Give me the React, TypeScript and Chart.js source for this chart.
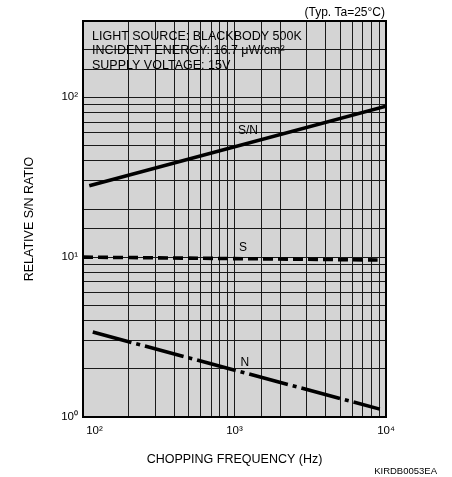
import React, { useEffect, useRef } from 'react';
import { Chart, registerables } from 'chart.js';

Chart.register(...registerables);

// ---- data ----
const snFreq = [110, 10000];
const snRatio = [28, 88];
const sFreq = [100, 8800];
const sRatio = [10, 9.6];
const nFreq = [116, 9100];
const nRatio = [3.4, 1.12];

const xTickValues = [100, 1000, 10000];
const xTickLabels = ['10²', '10³', '10⁴'];
const yTickValues = [1, 10, 100];
const yTickLabels = ['10⁰', '10¹', '10²'];

const seriesNames = ['S/N', 'S', 'N'];
const seriesLabelFreq = [1228, 1137, 1172];
const seriesLabelValue = [62, 11.4, 2.2];

const conditionLines = [
  'LIGHT SOURCE: BLACKBODY 500K',
  'INCIDENT ENERGY: 16.7 μW/cm²',
  'SUPPLY VOLTAGE: 15V',
];
const noteText = '(Typ. Ta=25°C)';
const codeText = 'KIRDB0053EA';
const xTitle = 'CHOPPING FREQUENCY (Hz)';
const yTitle = 'RELATIVE S/N RATIO';

const FONT = "'Liberation Sans', Arial, Helvetica, sans-serif";

function findTick(values: number[], v: number) {
  return values.findIndex((t) => Math.abs(Math.log10(t) - Math.log10(v)) < 1e-6);
}

export default function App() {
  const ref = useRef<HTMLCanvasElement>(null);

  useEffect(() => {
    const canvas = ref.current!;

    const bgPlugin = {
      id: 'bgFill',
      beforeDraw(chart: any) {
        const { ctx, chartArea } = chart;
        ctx.save();
        ctx.fillStyle = '#ffffff';
        ctx.fillRect(0, 0, chart.width, chart.height);
        ctx.fillStyle = '#d4d4d4';
        ctx.fillRect(chartArea.left, chartArea.top, chartArea.right - chartArea.left, chartArea.bottom - chartArea.top);
        ctx.restore();
      },
    };

    const annotPlugin = {
      id: 'annot',
      afterDraw(chart: any) {
        const { ctx, chartArea, scales } = chart;
        ctx.save();
        // frame
        ctx.strokeStyle = '#000';
        ctx.lineWidth = 2;
        ctx.strokeRect(chartArea.left, chartArea.top, chartArea.right - chartArea.left, chartArea.bottom - chartArea.top);

        ctx.fillStyle = '#000';
        // note top right
        ctx.font = `12px ${FONT}`;
        ctx.textAlign = 'right';
        ctx.textBaseline = 'alphabetic';
        ctx.fillText(noteText, chartArea.right - 1, 16);

        // conditions
        ctx.textAlign = 'left';
        ctx.font = `12.5px ${FONT}`;
        conditionLines.forEach((t, i) => {
          ctx.fillText(t, chartArea.left + 9, 39.5 + i * 14.5);
        });

        // series labels
        ctx.font = `12px ${FONT}`;
        ctx.textAlign = 'center';
        ctx.textBaseline = 'middle';
        seriesNames.forEach((name, i) => {
          const x = scales.x.getPixelForValue(seriesLabelFreq[i]);
          const y = scales.y.getPixelForValue(seriesLabelValue[i]);
          ctx.fillText(name, x, y);
        });

        // code
        ctx.font = `9.5px ${FONT}`;
        ctx.textAlign = 'right';
        ctx.textBaseline = 'alphabetic';
        ctx.fillText(codeText, 437, 474);
        ctx.restore();
      },
    };

    const mk = (fx: number[], vy: number[]) => fx.map((f, i) => ({ x: f, y: vy[i] }));

    const chart = new Chart(canvas, {
      type: 'line',
      data: {
        datasets: [
          {
            label: 'S/N',
            data: mk(snFreq, snRatio),
            borderColor: '#000',
            borderWidth: 3.6,
            pointRadius: 0,
            fill: false,
            tension: 0,
            borderCapStyle: 'butt',
          },
          {
            label: 'S',
            data: mk(sFreq, sRatio),
            borderColor: '#000',
            borderWidth: 3.6,
            borderDash: [10, 5],
            pointRadius: 0,
            fill: false,
            tension: 0,
            borderCapStyle: 'butt',
          },
          {
            label: 'N',
            data: mk(nFreq, nRatio),
            borderColor: '#000',
            borderWidth: 3.6,
            borderDash: [40, 5, 4, 5],
            pointRadius: 0,
            fill: false,
            tension: 0,
            borderCapStyle: 'butt',
          },
        ],
      },
      options: {
        animation: false,
        responsive: false,
        maintainAspectRatio: false,
        layout: { padding: { top: 21, right: 66, bottom: 0, left: 0 } },
        plugins: {
          legend: { display: false },
          tooltip: { enabled: false },
        },
        scales: {
          x: {
            type: 'logarithmic',
            position: 'bottom',
            min: 100,
            max: 10000,
            grid: { color: '#1a1a1a', lineWidth: 1, drawTicks: false },
            border: { display: false },
            ticks: {
              autoSkip: false,
              maxRotation: 0,
              minRotation: 0,
              padding: 7,
              color: '#000',
              font: { family: FONT, size: 11.5 },
              callback: (v: any) => {
                const i = findTick(xTickValues, Number(v));
                if (i < 0) return '';
                return (i === 0 ? '\u2002\u2002\u2002\u2002' : '') + xTickLabels[i];
              },
            },
            title: {
              display: true,
              text: xTitle,
              color: '#000',
              font: { family: FONT, size: 12.5 },
              padding: { top: 0, bottom: 10 },
            },
            afterFit: (s: any) => {
              s.height = 60;
              s.paddingLeft = 0;
              s.paddingRight = 0;
            },
          },
          y: {
            type: 'logarithmic',
            position: 'left',
            min: 1,
            max: 300,
            grid: { color: '#1a1a1a', lineWidth: 1, drawTicks: false },
            border: { display: false },
            ticks: {
              autoSkip: false,
              padding: 5,
              color: '#000',
              font: { family: FONT, size: 11.5 },
              callback: (v: any) => {
                const i = findTick(yTickValues, Number(v));
                return i < 0 ? '' : yTickLabels[i];
              },
            },
            title: {
              display: true,
              text: yTitle,
              color: '#000',
              font: { family: FONT, size: 12.5 },
              padding: { top: 22, bottom: 0 },
            },
            afterFit: (s: any) => {
              s.width = 83;
              s.paddingTop = 0;
              s.paddingBottom = 0;
            },
          },
        },
      } as any,
      plugins: [bgPlugin, annotPlugin],
    });

    return () => chart.destroy();
  }, []);

  return (
    <div style={{ position: 'fixed', left: 0, top: 0, width: 452, height: 477, background: '#fff' }}>
      <canvas ref={ref} width={452} height={477} style={{ display: 'block', width: 452, height: 477 }} />
    </div>
  );
}
